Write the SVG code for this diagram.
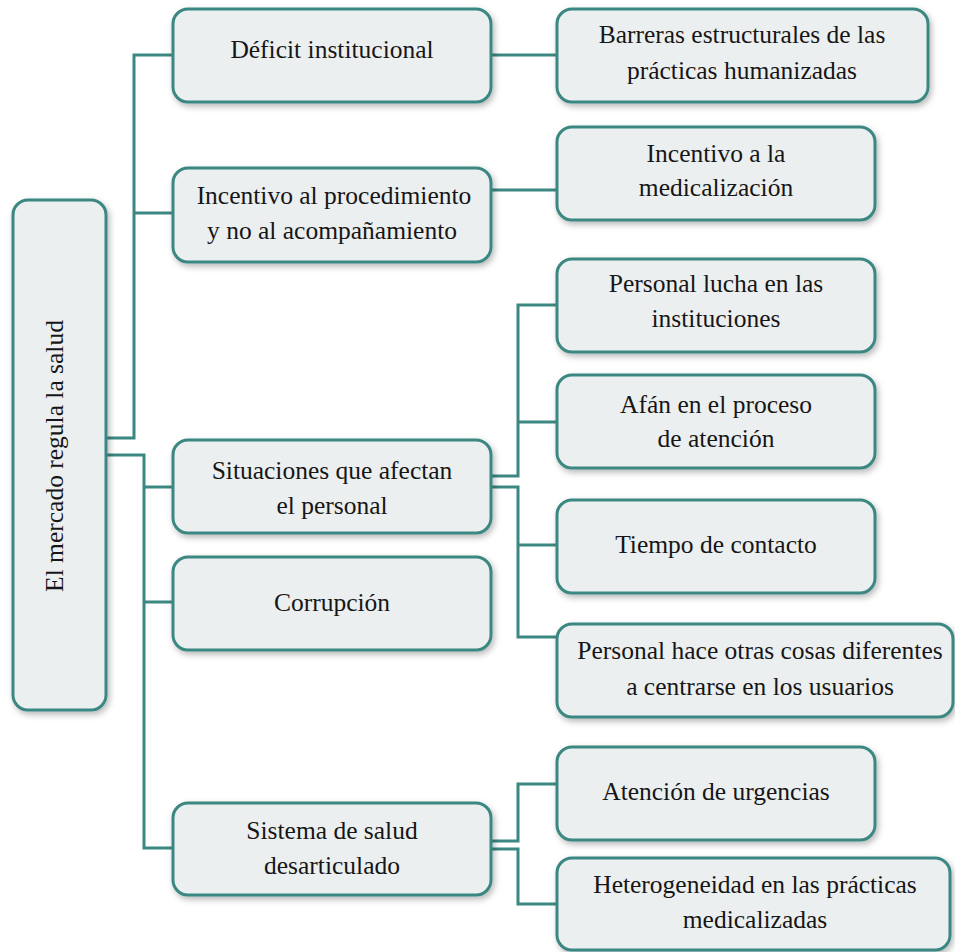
<svg xmlns="http://www.w3.org/2000/svg" width="955" height="952" viewBox="0 0 955 952">
<defs>
<filter id="sh" x="-10%" y="-10%" width="125%" height="130%">
<feDropShadow dx="2" dy="3" stdDeviation="3" flood-color="#000" flood-opacity="0.28"/>
</filter>
</defs>
<style>
.box{fill:#ECEFF0;stroke:#3B8781;stroke-width:3;filter:url(#sh)}
.t{font-size:25.5px;fill:#161616;text-anchor:middle}
.c{fill:none;stroke:#3B8781;stroke-width:3}
</style>
<rect width="955" height="952" fill="#fff"/>
<g id="connectors">
<path class="c" d="M106,438 H134 V55 H173"/>
<path class="c" d="M134,213 H173"/>
<path class="c" d="M106,455 H144 V848 H173"/>
<path class="c" d="M144,487 H173"/>
<path class="c" d="M144,602 H173"/>
<path class="c" d="M491,55 H557"/>
<path class="c" d="M491,190 H557"/>
<path class="c" d="M491,476 H518 V305 H557"/>
<path class="c" d="M518,422 H557"/>
<path class="c" d="M491,487 H518 V637 H557"/>
<path class="c" d="M518,545 H557"/>
<path class="c" d="M491,841 H518 V784 H557"/>
<path class="c" d="M491,849 H518 V904 H557"/>
</g>
<g font-family="'Liberation Serif', 'Times New Roman', 'DejaVu Serif', serif">
<g id="root">
<rect class="box" x="13" y="200" width="93" height="510" rx="15"/>
<text class="t" transform="translate(63,456) rotate(-90)" x="0" y="0">El mercado regula la salud</text>
</g>
<g id="deficit">
<rect class="box" x="173" y="9" width="318" height="93" rx="15"/>
<text class="t" x="332" y="58">Déficit institucional</text>
</g>
<g id="incentivo-proc">
<rect class="box" x="173" y="168" width="318" height="94" rx="15"/>
<text class="t" x="334" y="204">Incentivo al procedimiento</text>
<text class="t" x="332" y="239">y no al acompañamiento</text>
</g>
<g id="situaciones">
<rect class="box" x="173" y="440" width="318" height="93" rx="15"/>
<text class="t" x="332" y="479">Situaciones que afectan</text>
<text class="t" x="332" y="514">el personal</text>
</g>
<g id="corrupcion">
<rect class="box" x="173" y="557" width="318" height="93" rx="15"/>
<text class="t" x="332" y="611">Corrupción</text>
</g>
<g id="sistema">
<rect class="box" x="173" y="803" width="318" height="92" rx="15"/>
<text class="t" x="332" y="839">Sistema de salud</text>
<text class="t" x="332" y="874">desarticulado</text>
</g>
<g id="barreras">
<rect class="box" x="557" y="9" width="371" height="93" rx="15"/>
<text class="t" x="742" y="43">Barreras estructurales de las</text>
<text class="t" x="742" y="79">prácticas humanizadas</text>
</g>
<g id="incentivo-med">
<rect class="box" x="557" y="127" width="318" height="93" rx="15"/>
<text class="t" x="716" y="162">Incentivo a la</text>
<text class="t" x="716" y="196">medicalización</text>
</g>
<g id="personal-lucha">
<rect class="box" x="557" y="259" width="318" height="93" rx="15"/>
<text class="t" x="716" y="292">Personal lucha en las</text>
<text class="t" x="716" y="327">instituciones</text>
</g>
<g id="afan">
<rect class="box" x="557" y="375" width="318" height="93" rx="15"/>
<text class="t" x="716" y="413">Afán en el proceso</text>
<text class="t" x="716" y="447">de atención</text>
</g>
<g id="tiempo">
<rect class="box" x="557" y="500" width="318" height="93" rx="15"/>
<text class="t" x="716" y="553">Tiempo de contacto</text>
</g>
<g id="personal-hace">
<rect class="box" x="557" y="624" width="396" height="93" rx="15"/>
<text class="t" x="760" y="659">Personal hace otras cosas diferentes</text>
<text class="t" x="760" y="695">a centrarse en los usuarios</text>
</g>
<g id="atencion">
<rect class="box" x="557" y="747" width="318" height="93" rx="15"/>
<text class="t" x="716" y="800">Atención de urgencias</text>
</g>
<g id="heterogeneidad">
<rect class="box" x="557" y="858" width="393" height="92" rx="15"/>
<text class="t" x="755" y="893">Heterogeneidad en las prácticas</text>
<text class="t" x="755" y="928">medicalizadas</text>
</g>
</g>
</svg>
